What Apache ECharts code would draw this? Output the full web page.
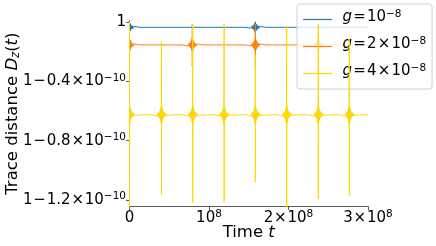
<!DOCTYPE html>
<html>
<head>
<meta charset="utf-8">
<script src="https://cdn.jsdelivr.net/npm/echarts@6/dist/echarts.min.js"></script>
<style>
html,body{margin:0;padding:0;background:#fff;}
#chart{width:436px;height:246px;}
</style>
</head>
<body>
<div id="chart"></div>
<script>
// x in units of 1e8, y as (D - 1) in units of 1e-10
const xTickValues = [0, 1, 2, 3];
const xTickLabels = ['0', '10{s|8}', '2{o|×}10{s|8}', '3{o|×}10{s|8}'];
const yTickValues = [0, -0.4, -0.8, -1.2];
const yTickLabels = ['1', '1{o|−}0.4{o|×}10{s|−10}', '1{o|−}0.8{o|×}10{s|−10}', '1{o|−}1.2{o|×}10{s|−10}'];

const seriesNames = ['g1', 'g2', 'g4'];
const legendLabels = ['{i|g}{o|=}10{s|−8}', '{i|g}{o|=}2{o|×}10{s|−8}', '{i|g}{o|=}4{o|×}10{s|−8}'];
const seriesColors = ['#1f77b4', '#ff7f0e', '#ffd700'];

// baseline levels
const baseLevels = [-0.034, -0.153, -0.625];

// revival spikes: times, top and bottom extents
const blueSpikeT = [0, 1.583];
const blueSpikeTop = [0.01, 0.003];
const blueSpikeBottom = [-0.06, -0.07];

const orangeSpikeT = [0, 0.79, 1.583, 2.375];
const orangeSpikeTop = [0, -0.011, -0.011, -0.02];
const orangeSpikeBottom = [-0.26, -0.30, -0.30, -0.30];

const yellowSpikeT = [0, 0.402, 0.795, 1.19, 1.583, 1.977, 2.375, 2.765];
const yellowSpikeTop = [0, -0.13, -0.011, -0.011, -0.22, -0.025, -0.011, -0.11];
const yellowSpikeBottom = [-1.26, -1.165, -1.22, -1.215, -1.08, -1.26, -1.195, -1.17];

// oscillation envelope around each spike (offset from spike, half-amplitude)
const glowDt = [0.11, 0.09, 0.07, 0.055, 0.045, 0.035, 0.027, 0.02, 0.014, 0.009, 0.005, 0.002];
const blueGlowAmp = [0.002, 0.003, 0.004, 0.006, 0.008, 0.01, 0.013, 0.016, 0.019, 0.023, 0.026, 0.028];
const orangeGlowAmp = [0.002, 0.003, 0.005, 0.007, 0.009, 0.012, 0.016, 0.021, 0.027, 0.033, 0.038, 0.042];
const yellowGlowAmp = [0.002, 0.004, 0.006, 0.009, 0.012, 0.016, 0.021, 0.028, 0.036, 0.045, 0.054, 0.062];

function buildSeriesData(base, times, tops, bottoms, amps) {
  const pts = [];
  for (let k = 0; k < times.length; k++) {
    const t = times[k];
    pts.push([t - 0.13, base]);
    for (let i = 0; i < glowDt.length; i++) {
      pts.push([t - glowDt[i], base + (i % 2 === 0 ? 1 : -1) * amps[i]]);
    }
    pts.push([t, tops[k]]);
    pts.push([t, bottoms[k]]);
    for (let i = glowDt.length - 1; i >= 0; i--) {
      pts.push([t + glowDt[i], base + (i % 2 === 0 ? -1 : 1) * amps[i]]);
    }
    pts.push([t + 0.13, base]);
  }
  pts.push([3, base]);
  return pts;
}

const dataSets = [
  buildSeriesData(baseLevels[0], blueSpikeT, blueSpikeTop, blueSpikeBottom, blueGlowAmp),
  buildSeriesData(baseLevels[1], orangeSpikeT, orangeSpikeTop, orangeSpikeBottom, orangeGlowAmp),
  buildSeriesData(baseLevels[2], yellowSpikeT, yellowSpikeTop, yellowSpikeBottom, yellowGlowAmp)
];

const FONT = 'DejaVu Sans';
const richTick = {
  n: {fontSize: 15, fontFamily: FONT, color: '#000', lineHeight: 18},
  o: {fontSize: 15, fontFamily: FONT, color: '#000', lineHeight: 18, padding: [0, 0.8, 0, 0.8]},
  s: {fontSize: 10.5, fontFamily: FONT, color: '#000', lineHeight: 7, verticalAlign: 'top'}
};
function wrapRich(str) {
  return str.split(/(\{[a-z]+\|[^}]*\})/).filter(p => p.length).map(p => p.startsWith('{') ? p : '{n|' + p + '}').join('');
}

const chart = echarts.init(document.getElementById('chart'), null, {renderer: 'canvas'});
chart.setOption({
  animation: false,
  backgroundColor: '#fff',
  grid: {left: 129.5, right: 68, top: 20.8, bottom: 39.5, containLabel: false, outerBoundsMode: 'none'},
  xAxis: {
    type: 'value', min: 0, max: 3, interval: 1,
    name: 'Time {i|t}', nameLocation: 'middle', nameGap: 17, nameMoveOverlap: false,
    nameTextStyle: {fontSize: 16.5, fontFamily: FONT, color: '#000', lineHeight: 19,
      rich: {i: {fontSize: 16.5, fontFamily: FONT, fontStyle: 'italic', color: '#000', lineHeight: 19}}},
    axisLine: {show: true, onZero: false, lineStyle: {color: '#333', width: 0.8}},
    axisTick: {show: true, length: 3.5, lineStyle: {color: '#333', width: 0.8}},
    axisLabel: {margin: 2.5, color: '#000', fontSize: 15, fontFamily: FONT,
      formatter: function (v) { const i = xTickValues.indexOf(Math.round(v)); return i >= 0 ? wrapRich(xTickLabels[i]) : ''; },
      rich: richTick},
    splitLine: {show: false}
  },
  yAxis: {
    type: 'value', min: -1.245, max: 0.01,
    name: 'Trace distance {i|D}{sub|z}({i|t})', nameLocation: 'middle', nameGap: 107, nameMoveOverlap: false,
    nameTextStyle: {fontSize: 16.5, fontFamily: FONT, color: '#000', lineHeight: 19,
      rich: {
        i: {fontSize: 16.5, fontFamily: FONT, fontStyle: 'italic', color: '#000', lineHeight: 19},
        sub: {fontSize: 11.5, fontFamily: FONT, fontStyle: 'italic', color: '#000', lineHeight: 8, verticalAlign: 'bottom'}
      }},
    axisLine: {show: true, onZero: false, lineStyle: {color: '#333', width: 0.8}},
    axisTick: {show: true, length: 3.5, customValues: yTickValues, lineStyle: {color: '#333', width: 0.8}},
    axisLabel: {margin: 3.5, color: '#000', fontSize: 15, fontFamily: FONT,
      customValues: yTickValues,
      formatter: function (v) {
        let best = -1;
        for (let i = 0; i < yTickValues.length; i++) if (Math.abs(yTickValues[i] - v) < 1e-6) best = i;
        return best >= 0 ? wrapRich(yTickLabels[best]) : '';
      },
      rich: richTick},
    splitLine: {show: false}
  },
  legend: {
    orient: 'vertical', left: 297, top: 4,
    padding: [5, 6, 5, 6], itemGap: 6, itemWidth: 29, itemHeight: 1.2, icon: 'rect',
    backgroundColor: 'rgba(255,255,255,0.8)', borderColor: '#d0d0d0', borderWidth: 1, borderRadius: 3,
    data: seriesNames,
    formatter: function (name) { return wrapRich(legendLabels[seriesNames.indexOf(name)]); },
    textStyle: {fontSize: 15, fontFamily: FONT, color: '#000', padding: [0, 0, 4, 5.5], lineHeight: 17,
      rich: {
        n: {fontSize: 15, fontFamily: FONT, color: '#000', lineHeight: 17},
        o: {fontSize: 15, fontFamily: FONT, color: '#000', lineHeight: 17, padding: [0, 1.2, 0, 1.2]},
        i: {fontSize: 15, fontFamily: FONT, fontStyle: 'italic', color: '#000', lineHeight: 17},
        s: {fontSize: 10.5, fontFamily: FONT, color: '#000', lineHeight: 7, verticalAlign: 'top'}
      }}
  },
  series: seriesNames.map((nm, idx) => ({
    name: nm, type: 'line', data: dataSets[idx], symbol: 'none', showSymbol: false,
    color: seriesColors[idx], clip: true, z: 2 + idx,
    lineStyle: {color: seriesColors[idx], width: 1},
    emphasis: {disabled: true}
  }))
});
</script>
</body>
</html>
